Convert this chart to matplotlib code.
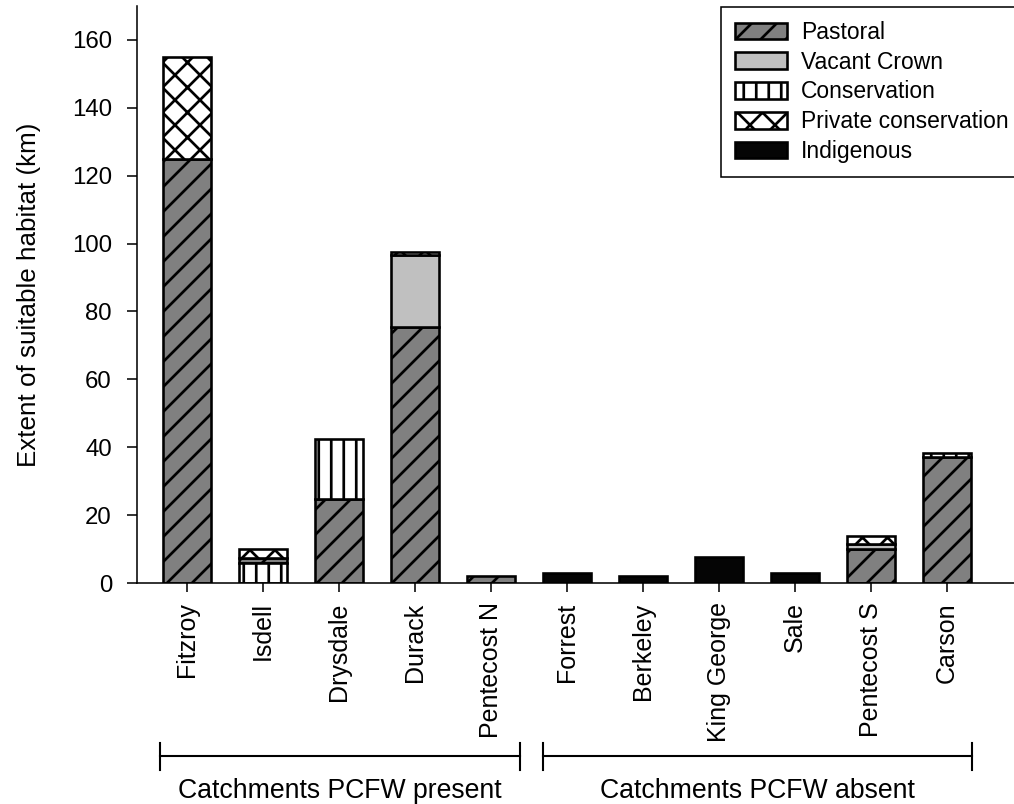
import numpy as np
import matplotlib
matplotlib.use("Agg")
import matplotlib.pyplot as plt

##chart values (km of suitable habitat)
catchments=["Fitzroy","Isdell","Drysdale","Durack","Pentecost N","Forrest",
            "Berkeley","King George","Sale","Pentecost S","Carson"]
pastoral=[125.0,1.5,24.7,75.5,2.0,0,0,0,0,10.0,37.0]
vacantCrown=[0,0,0,21.0,0,0,0,0,0,1.5,0]
conservation=[0,6.0,17.7,0,0,0,0,0,0,0,1.4]
privateCons=[30.0,2.4,0,1.0,0,0,0,0,0,2.4,0]
indigenous=[0,0,0,0,0,2.8,2.0,7.7,2.9,0,0]

groupNames=["Catchments PCFW present","Catchments PCFW absent"]
groupSpans=[(-0.355,4.38),(4.68,10.33)]

layers=[("Pastoral",pastoral,"#808080","//"),
        ("Vacant Crown",vacantCrown,"#c0c0c0",None),
        ("Conservation",conservation,"white","||"),
        ("Private conservation",privateCons,"white","xx"),
        ("Indigenous",indigenous,"#050505",None)]
defaultOrder=[l[0] for l in layers]
##Isdell has conservation stacked below pastoral
specialOrder={"Isdell":["Conservation","Pastoral","Vacant Crown","Private conservation","Indigenous"]}

plt.rcParams["font.family"]=["Liberation Sans","DejaVu Sans"]
plt.rcParams["hatch.linewidth"]=1.3

fig=plt.figure(figsize=(1014/150,804/150),dpi=150)
ax=fig.add_axes([137/1014,(804-583)/804,0.8887,577/804])

x=np.arange(len(catchments))
values={name:np.array(vals,dtype=float) for name,vals,_,_ in layers}

##compute bottom of every segment following the stacking order of each catchment
bottoms={name:np.zeros(len(catchments)) for name in values}
for i,c in enumerate(catchments):
    order=specialOrder.get(c,defaultOrder)
    run=0.0
    for name in order:
        bottoms[name][i]=run
        run+=values[name][i]

for name,vals,color,hatch in layers:
    v=values[name]
    mask=v>0
    ax.bar(x[mask],v[mask],width=0.62,bottom=bottoms[name][mask],color=color,
           edgecolor="black",linewidth=1.25,hatch=hatch,label=name)

ax.set_xlim(-0.658,11.2)
ax.set_ylim(0,170)
ax.set_yticks(np.arange(0,161,20))
ax.set_xticks(x)
ax.set_xticklabels(catchments,rotation=90,fontsize=12)
ax.tick_params(axis="y",labelsize=11.5,length=5,width=0.75,pad=7)
ax.tick_params(axis="x",length=4.3,width=0.75,pad=5)
for s in ["top","right"]:
    ax.spines[s].set_visible(False)
for s in ["left","bottom"]:
    ax.spines[s].set_linewidth(0.75)

ax.set_ylabel("Extent of suitable habitat (km)",fontsize=12.5)
ax.yaxis.set_label_coords(-0.107,0.5)

##group brackets below the tick labels
trans=ax.get_xaxis_transform()
for name,(x0,x1) in zip(groupNames,groupSpans):
    ax.plot([x0,x1],[-0.2998,-0.2998],color="black",lw=1.0,transform=trans,clip_on=False)
    for xe in (x0,x1):
        ax.plot([xe,xe],[-0.277,-0.324],color="black",lw=1.0,transform=trans,clip_on=False)
    ax.text((x0+x1)/2,-0.36,name,ha="center",va="center",fontsize=12.8,
            transform=trans,clip_on=False)

leg=ax.legend(loc="upper left",bbox_to_anchor=(721/1014,1-7/804),bbox_transform=fig.transFigure,
              fontsize=11,frameon=True,fancybox=False,framealpha=1,edgecolor="black",
              borderaxespad=0,borderpad=0.6,handlelength=2.3,handleheight=0.72,
              handletextpad=0.6,labelspacing=0.3)
leg.get_frame().set_linewidth(0.75)

fig.savefig("out.png",dpi=150)
